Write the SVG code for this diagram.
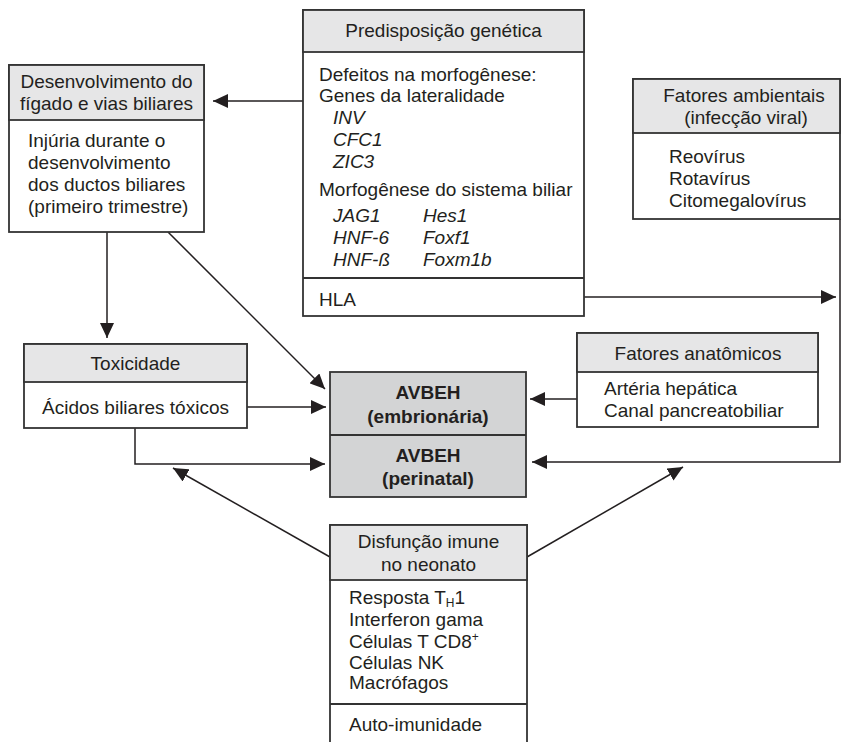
<svg xmlns="http://www.w3.org/2000/svg" width="845" height="742" viewBox="0 0 845 742">
<defs>
<marker id="ah" markerUnits="userSpaceOnUse" markerWidth="16" markerHeight="14" refX="15" refY="7" orient="auto">
<path d="M0,0 L15,7 L0,14 Z" fill="#231f20"/>
</marker>
<style>
text{font-family:"Liberation Sans",Arial,Helvetica,sans-serif;font-size:19px;fill:#231f20}
.c{text-anchor:middle}
.i{font-style:italic}
.b{font-weight:bold}
.box{fill:#ffffff;stroke:#333333;stroke-width:1.8}
.hd{fill:#e6e6e7;stroke:#333333;stroke-width:1.8}
.dk{fill:#d3d4d5;stroke:#333333;stroke-width:1.8}
.ln{fill:none;stroke:#333333;stroke-width:1.8}
.cn{fill:none;stroke:#231f20;stroke-width:1.5}
</style>
</defs>
<rect width="845" height="742" fill="#ffffff"/>

<g id="connectors">
<path class="cn" d="M303,101 H213" marker-end="url(#ah)"/>
<path class="cn" d="M584,297 H836" marker-end="url(#ah)"/>
<path class="cn" d="M840,219 V462 H532" marker-end="url(#ah)"/>
<path class="cn" d="M107,232 V338" marker-end="url(#ah)"/>
<path class="cn" d="M168,232 L325,389" marker-end="url(#ah)"/>
<path class="cn" d="M247,407 H326" marker-end="url(#ah)"/>
<path class="cn" d="M135,428 V464 H325" marker-end="url(#ah)"/>
<path class="cn" d="M577,399 H530" marker-end="url(#ah)"/>
<path class="cn" d="M330,557 L173,468" marker-end="url(#ah)"/>
<path class="cn" d="M527,557 L683,467" marker-end="url(#ah)"/>
</g>

<g id="predisposicao">
<rect class="box" x="303" y="10" width="281" height="306"/>
<rect class="hd" x="303" y="10" width="281" height="42"/>
<line class="ln" x1="303" y1="278" x2="584" y2="278"/>
<text class="c" x="443.5" y="37">Predisposição genética</text>
<text x="319" y="81">Defeitos na morfogênese:</text>
<text x="319" y="102">Genes da lateralidade</text>
<text class="i" x="333" y="124">INV</text>
<text class="i" x="333" y="146">CFC1</text>
<text class="i" x="333" y="168">ZIC3</text>
<text x="319" y="196">Morfogênese do sistema biliar</text>
<text class="i" x="333" y="222">JAG1</text>
<text class="i" x="423" y="222">Hes1</text>
<text class="i" x="333" y="244">HNF-6</text>
<text class="i" x="423" y="244">Foxf1</text>
<text class="i" x="333" y="266">HNF-ß</text>
<text class="i" x="423" y="266">Foxm1b</text>
<text x="319" y="306">HLA</text>
</g>

<g id="desenvolvimento">
<rect class="box" x="9" y="65" width="195" height="167"/>
<rect class="hd" x="9" y="65" width="195" height="55"/>
<text class="c" x="106.5" y="88">Desenvolvimento do</text>
<text class="c" x="106.5" y="110">fígado e vias biliares</text>
<text x="28" y="147">Injúria durante o</text>
<text x="28" y="169">desenvolvimento</text>
<text x="28" y="191">dos ductos biliares</text>
<text x="28" y="213">(primeiro trimestre)</text>
</g>

<g id="ambientais">
<rect class="box" x="633" y="79" width="207" height="140"/>
<rect class="hd" x="633" y="79" width="207" height="54"/>
<text class="c" x="744" y="102">Fatores ambientais</text>
<text class="c" x="746" y="124">(infecção viral)</text>
<text x="669" y="163">Reovírus</text>
<text x="669" y="185">Rotavírus</text>
<text x="669" y="207">Citomegalovírus</text>
</g>

<g id="toxicidade">
<rect class="box" x="24" y="344" width="223" height="84"/>
<rect class="hd" x="24" y="344" width="223" height="38"/>
<text class="c" x="135.5" y="370">Toxicidade</text>
<text class="c" x="135.5" y="414">Ácidos biliares tóxicos</text>
</g>

<g id="avbeh">
<rect class="dk" x="330" y="372" width="196" height="125"/>
<line class="ln" x1="330" y1="435" x2="526" y2="435"/>
<text class="c b" x="428" y="399">AVBEH</text>
<text class="c b" x="428" y="423">(embrionária)</text>
<text class="c b" x="428" y="462">AVBEH</text>
<text class="c b" x="428" y="485">(perinatal)</text>
</g>

<g id="anatomicos">
<rect class="box" x="577" y="333" width="241" height="94"/>
<rect class="hd" x="577" y="333" width="241" height="39"/>
<text class="c" x="698" y="360">Fatores anatômicos</text>
<text x="604" y="395">Artéria hepática</text>
<text x="604" y="417">Canal pancreatobiliar</text>
</g>

<g id="imune">
<rect class="box" x="330" y="525" width="197" height="240"/>
<rect class="hd" x="330" y="525" width="197" height="55"/>
<line class="ln" x1="330" y1="704" x2="527" y2="704"/>
<text class="c" x="428.5" y="548">Disfunção imune</text>
<text class="c" x="428.5" y="571">no neonato</text>
<text x="349" y="604">Resposta T<tspan font-size="12" dy="3">H</tspan><tspan dy="-3">1</tspan></text>
<text x="349" y="626">Interferon gama</text>
<text x="349" y="648">Células T CD8<tspan font-size="12" dy="-7">+</tspan></text>
<text x="349" y="669">Células NK</text>
<text x="349" y="689">Macrófagos</text>
<text x="349" y="731">Auto-imunidade</text>
</g>
</svg>
